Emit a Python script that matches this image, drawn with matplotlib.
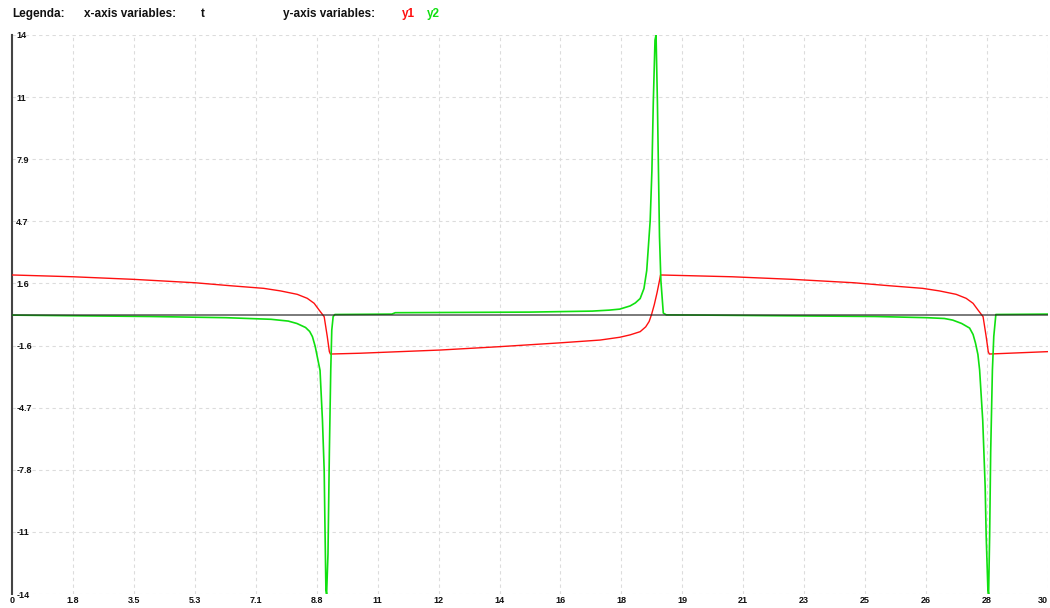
import matplotlib
matplotlib.use("Agg")
import matplotlib.pyplot as plt

# ---- data ----
t_y1 = [0, 1.77, 3.53, 5.3, 6.33, 7.29, 7.78, 8.26, 8.55, 8.75, 8.89, 9.04, 9.13, 9.19, 9.22,
        10.08, 12.4, 14.13, 15.87, 17.03, 17.6, 17.9, 18.19, 18.35, 18.45, 18.52, 18.6,
        18.68, 18.75, 18.78,
        20.85, 22.61, 24.38, 25.41, 26.37, 26.86, 27.34, 27.63, 27.83, 27.97, 28.12, 28.21,
        28.27, 28.3, 30.0]
y1 = [1.98, 1.89, 1.76, 1.59, 1.44, 1.31, 1.18, 1.01, 0.81, 0.56, 0.23, -0.11, -1.11, -1.86, -1.98,
      -1.94, -1.78, -1.61, -1.42, -1.28, -1.14, -1.02, -0.86, -0.62, -0.35, 0.0, 0.5,
      1.1, 1.7, 1.98,
      1.89, 1.76, 1.59, 1.44, 1.31, 1.18, 1.01, 0.81, 0.56, 0.23, -0.11, -1.11,
      -1.86, -1.98, -1.86]

t_y2 = [0, 1.6, 4.0, 6.2, 7.5, 8.0, 8.25, 8.5, 8.62, 8.7, 8.78, 8.85, 8.92, 8.99, 9.04, 9.06,
        9.09, 9.11, 9.15, 9.19, 9.23, 9.26, 9.3, 9.35, 11.0, 11.1, 15.0, 16.8, 17.3, 17.6,
        17.9, 18.05, 18.19, 18.3, 18.38, 18.48, 18.53, 18.57, 18.62, 18.65, 18.69, 18.72,
        18.75, 18.79, 18.86, 18.95, 20.0, 22.0, 25.0, 26.5, 27.0, 27.24, 27.5, 27.73, 27.83,
        27.9, 27.97, 28.02, 28.11, 28.18, 28.21, 28.26, 28.28, 28.31, 28.34, 28.39, 28.43,
        28.49, 30.0]
y2 = [-0.03, -0.06, -0.1, -0.16, -0.24, -0.33, -0.45, -0.65, -0.85, -1.11, -1.6, -2.2, -2.8,
      -5.3, -7.8, -10.3, -13.8, -14.0, -12.0, -6.9, -2.8, -0.78, -0.1, 0.0, 0.02, 0.09,
      0.12, 0.17, 0.22, 0.27, 0.43, 0.58, 0.8, 1.3, 2.2, 4.7, 7.2, 10.6, 13.75, 14.0, 10.6,
      7.2, 3.9, 1.7, 0.07, -0.02, -0.03, -0.06, -0.1, -0.16, -0.2, -0.28, -0.45, -0.68,
      -1.0, -1.43, -2.0, -2.78, -5.3, -8.6, -11.1, -13.8, -14.0, -11.1, -6.9, -2.78, -1.1,
      0.0, 0.02]

x_ticks = [30 * i / 17 for i in range(18)]
x_labels = ["0", "1.8", "3.5", "5.3", "7.1", "8.8", "11", "12", "14", "16", "18", "19",
            "21", "23", "25", "26", "28", "30"]
y_ticks = [-14 + 28 * i / 9 for i in range(10)]
y_labels = ["-14", "-11", "-7.8", "-4.7", "-1.6", "1.6", "4.7", "7.9", "11", "14"]

plt.rcParams['font.family'] = ['Liberation Sans', 'DejaVu Sans']

fig = plt.figure(figsize=(10.5, 6.08), dpi=100)
ax = fig.add_axes([12 / 1050, 14 / 608, 1036 / 1050, 559 / 608])
ax.set_xlim(0, 30)
ax.set_ylim(-14, 14)

ax.set_xticks(x_ticks, x_labels)
ax.set_yticks(y_ticks, y_labels)
ax.tick_params(axis='both', length=0, labelsize=6.5, colors='#111111')
ax.tick_params(axis='y', pad=-3)
ax.tick_params(axis='x', pad=1.5)
for lab in ax.get_yticklabels():
    lab.set_horizontalalignment('left')
    lab.set_fontweight('bold')
for lab in ax.get_xticklabels():
    lab.set_fontweight('bold')
ax.get_xticklabels()[-1].set_horizontalalignment('right')

ax.grid(True, color='#dcdcdc', linestyle=(0, (3, 3)), linewidth=0.8)
ax.set_axisbelow(True)
for s in ['top', 'right', 'bottom']:
    ax.spines[s].set_visible(False)
ax.spines['left'].set_color('#444444')
ax.spines['left'].set_linewidth(1.5)

ax.plot(t_y1, y1, color='#ff1010', linewidth=1.0, zorder=3)
ax.plot(t_y2, y2, color='#10e010', linewidth=1.2, zorder=3)
ax.axhline(0, color='#222222', alpha=0.7, linewidth=1.2, zorder=4)

ty = 1 - 14 / 608
hdr = dict(fontsize=8.5, fontweight='bold', va='center', ha='left')
fig.text(12 / 1050, ty, "Legenda:", color='#111111', **hdr)
fig.text(84 / 1050, ty, "x-axis variables:", color='#111111', **hdr)
fig.text(201 / 1050, ty, "t", color='#111111', **hdr)
fig.text(283 / 1050, ty, "y-axis variables:", color='#111111', **hdr)
fig.text(402 / 1050, ty, "y1", color='#ff1010', **hdr)
fig.text(427 / 1050, ty, "y2", color='#10e010', **hdr)

fig.savefig("out.png", dpi=100)
